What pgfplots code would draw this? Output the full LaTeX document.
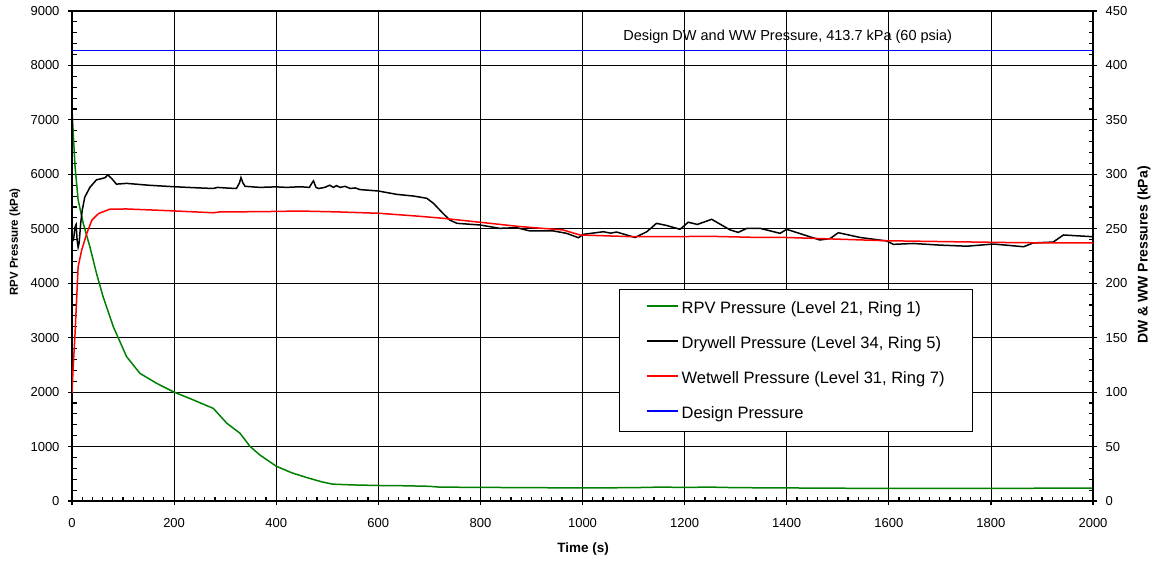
\documentclass[border=0pt]{standalone}
\usepackage{pgfplots}
\pgfplotsset{compat=1.18}
\usepackage{fontspec}
\setmainfont{Liberation Sans}
\definecolor{rpvgreen}{rgb}{0,0.5,0}
\newcommand{\legline}[1]{\textcolor{#1}{\rule[6.5pt]{31pt}{1.6pt}}\hspace{4pt}}
\begin{document}
\begin{tikzpicture}
\useasboundingbox (0pt,0pt) rectangle (1156pt,560pt);
\pgfplotsset{
  common/.style={
    scale only axis, width=1021pt, height=490pt,
    at={(72pt,59pt)}, anchor=south west,
    xmin=0, xmax=2000,
    tick style={black, line width=1.2pt},
    /pgf/number format/assume math mode=true,
    /pgf/number format/1000 sep={},
    ticklabel style={font=\fontsize{13}{15}\selectfont},
    axis line style={line width=2.8pt},
  }
}
% main axis: left scale, grid, inside minor ticks
\begin{axis}[common,
  ymin=0, ymax=9000,
  tick align=inside, major tick length=0pt, minor tick length=4.5pt,
  xtick={0,200,...,2000}, minor x tick num=9,
  ytick={0,1000,...,9000}, minor y tick num=4,
  xtick pos=bottom, ytick pos=left,
  grid=major, major grid style={black, line width=0.8pt},
  xticklabel style={yshift=-13.5pt},
  yticklabel style={xshift=-9pt},
]
\addplot[rpvgreen, line width=1.5pt] coordinates {
(0,7200) (3,6650) (6,6140) (12,5530) (22,5100) (35,4670) (48,4180) (61,3750)
(81,3200) (107,2650) (133,2345) (166,2160) (200,2000) (238,1855) (277,1700)
(303,1430) (329,1245) (349,1000) (368,845) (400,640) (430,520) (460,430)
(490,350) (510,310) (550,295) (600,285) (650,280) (700,270) (720,255) (800,250)
(900,245) (1000,240) (1100,245) (1150,255) (1200,250) (1250,255) (1300,245)
(1400,240) (1500,235) (1600,230) (1800,230) (1900,235) (2000,235)
};
\end{axis}
% outward major ticks on left, bottom and right
\begin{axis}[common,
  ymin=0, ymax=9000,
  tick align=outside, major tick length=4pt,
  xtick={0,200,...,2000}, minor x tick num=0,
  ytick={0,1000,...,9000}, minor y tick num=0,
  xtick pos=bottom, ytick pos=both,
  xticklabels={}, yticklabels={},
]
\end{axis}
% right axis: DW/WW scale
\begin{axis}[common,
  ymin=0, ymax=450,
  axis y line*=right, axis x line=none,
  tick align=inside, major tick length=0pt, minor tick length=4.5pt,
  ytick={0,50,...,450}, minor y tick num=4,
  yticklabel style={xshift=9pt},
  legend style={at={(0.5358,0.4327)}, anchor=north west,
    draw=black, fill=white,
    inner xsep=27.4pt, inner ysep=2pt,
    font=\fontsize{16.5}{19}\selectfont,
    row sep=2.3pt, column sep=0pt,
    nodes={inner sep=0pt, text height=22pt, text depth=10.7pt}},
  legend cell align=left,
  legend image code/.code={},
]
\addlegendimage{empty legend}
\addlegendentry{\legline{rpvgreen}RPV Pressure (Level 21, Ring 1)}
\addlegendimage{empty legend}
\addlegendentry{\legline{black}Drywell Pressure (Level 34, Ring 5)}
\addlegendimage{empty legend}
\addlegendentry{\legline{red}Wetwell Pressure (Level 31, Ring 7)}
\addlegendimage{empty legend}
\addlegendentry{\legline{blue}Design Pressure}
\addplot[black, line width=1.5pt, forget plot] coordinates {
(0,242) (3,240) (6,252) (8,254) (10,240) (12,233) (14,237) (17,255) (20,267)
(25,279) (35,288) (48,295) (58,296) (65,297) (70,299.5) (78,296) (87,291)
(107,291.7) (150,290) (200,288.6) (250,287.5) (277,287) (285,288) (300,287.5)
(322,287) (328,292) (331,297) (335,292) (339,289) (368,288) (400,288.5)
(420,288) (447,288.6) (465,288) (470,292) (473,294) (478,288) (483,287)
(495,288) (505,290) (512,288) (518,289.6) (525,288) (535,289) (545,287)
(555,287.5) (564,286) (600,284.7) (636,281.6) (670,280) (695,278) (708,273.4)
(725,265) (740,258) (754,255) (799,253.5) (838,250.4) (871,251) (897,248)
(943,248) (969,245.8) (992,241.8) (1002,244.9) (1041,247.3) (1055,246)
(1067,247) (1103,242) (1126,247.3) (1145,255) (1165,253) (1191,249.5)
(1207,256) (1225,254) (1253,258.7) (1289,249) (1305,246.7) (1322,250.4)
(1348,250.4) (1387,245.8) (1400,249.5) (1465,239.7) (1485,241) (1501,246.4)
(1544,242) (1596,238.8) (1609,235.7) (1648,236.5) (1700,235) (1753,234)
(1805,236) (1864,233.5) (1883,237) (1922,237.8) (1942,244.3) (2000,242.7)
};
\addplot[red, line width=1.5pt, forget plot] coordinates {
(0,99) (2,120) (6,154) (12,215) (19,230.5) (29,245.8) (39,258) (52,264)
(74,268) (107,268.2) (200,266.4) (277,264.7) (290,265.5) (368,265.7)
(447,266.3) (520,265.5) (603,264.2) (680,261.5) (727,259.6) (799,256)
(878,252) (962,248.9) (995,244.3) (1099,242.7) (1257,243) (1348,242)
(1400,242) (1596,239) (1857,237.2) (2000,237)
};
\addplot[blue, line width=1.5pt, forget plot] coordinates {(0,413.7) (2000,413.7)};
\node[font=\fontsize{14.5}{17}\selectfont] at (axis cs:1402,426.4)
  {Design DW and WW Pressure, 413.7 kPa (60 psia)};
\end{axis}
\node[rotate=90, font=\bfseries\fontsize{11.5}{14}\selectfont] at (15pt,318pt) {RPV Pressure (kPa)};
\node[rotate=90, font=\bfseries\fontsize{14}{16}\selectfont] at (1144pt,305pt) {DW \& WW Pressures (kPa)};
\node[font=\bfseries\fontsize{13.5}{16}\selectfont] at (583pt,11pt) {Time (s)};
\end{tikzpicture}
\end{document}
